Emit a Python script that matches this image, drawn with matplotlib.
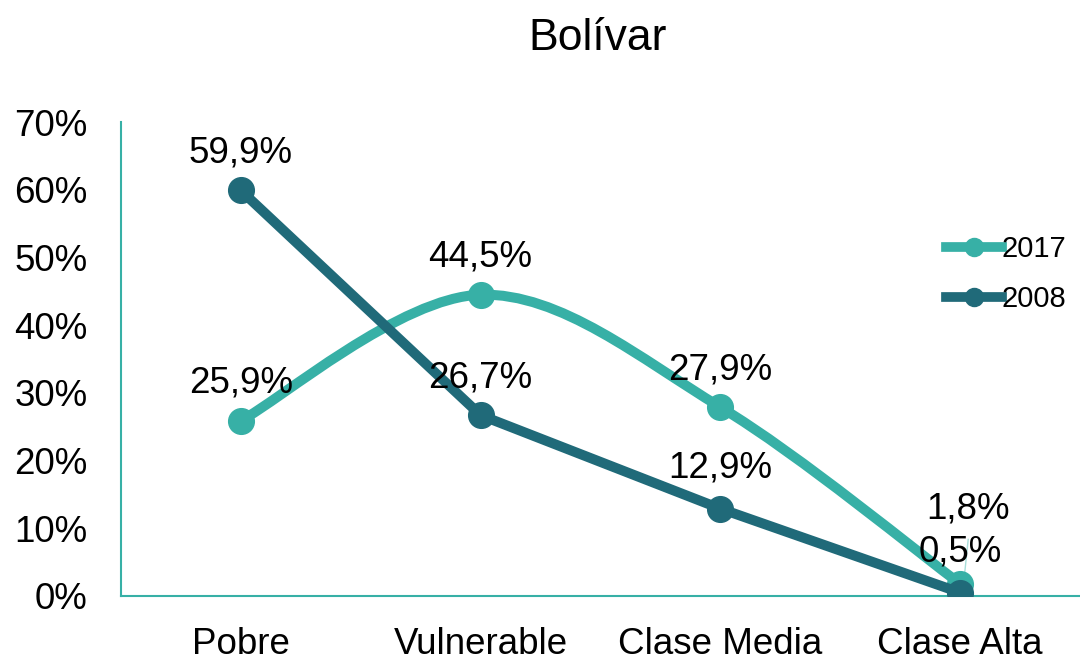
import matplotlib.pyplot as plt
from matplotlib.path import Path
from matplotlib.patches import PathPatch
from matplotlib.lines import Line2D

plt.rcParams['font.family'] = ['Liberation Sans', 'DejaVu Sans']

categorias = ['Pobre', 'Vulnerable', 'Clase Media', 'Clase Alta']
valores_2017 = [0.259, 0.445, 0.279, 0.018]
valores_2008 = [0.599, 0.267, 0.129, 0.005]

color_2017 = '#37B0A6'
color_2008 = '#206A79'


def curva_suave(xs, ys):
    # bezier estilo Excel (catmull-rom)
    pts = list(zip(xs, ys))
    n = len(pts)
    verts = [pts[0]]
    codes = [Path.MOVETO]
    for i in range(n - 1):
        p0 = pts[max(i - 1, 0)]
        p1 = pts[i]
        p2 = pts[i + 1]
        p3 = pts[min(i + 2, n - 1)]
        c1 = (p1[0] + (p2[0] - p0[0]) / 6, p1[1] + (p2[1] - p0[1]) / 6)
        c2 = (p2[0] - (p3[0] - p1[0]) / 6, p2[1] - (p3[1] - p1[1]) / 6)
        verts += [c1, c2, p2]
        codes += [Path.CURVE4] * 3
    return Path(verts, codes)


fig = plt.figure(figsize=(10.8, 6.6), dpi=100)
ax = fig.add_axes([0.112, 0.097, 0.888, 0.718])

x = list(range(len(categorias)))

ax.add_patch(PathPatch(curva_suave(x, valores_2017), fill=False, edgecolor=color_2017,
                       lw=7.2, capstyle='round', joinstyle='round', zorder=3))
ax.plot(x, valores_2017, 'o', color=color_2017, markersize=18.5, zorder=4)
ax.plot(x, valores_2008, '-o', color=color_2008, lw=7.2, markersize=18.5,
        solid_capstyle='round', zorder=5)

def fmt(v):
    return f'{v * 100:.1f}%'.replace('.', ',')

off_2017 = [(0, 27), (0, 27), (0, 27), (6, 54)]
off_2008 = [(0, 27), (0, 27), (0, 29), (0, 29)]
for i in range(len(categorias)):
    ax.annotate(fmt(valores_2017[i]), (x[i], valores_2017[i]), xytext=off_2017[i],
                textcoords='offset points', ha='center', va='center', fontsize=26.5, zorder=6)
    ax.annotate(fmt(valores_2008[i]), (x[i], valores_2008[i]), xytext=off_2008[i],
                textcoords='offset points', ha='center', va='center', fontsize=26.5, zorder=6)

# linea guia del 1,8%
ax.annotate('', xy=(x[3] + 0.015, valores_2017[3] + 0.002), xytext=(x[3] + 0.035, 0.088),
            arrowprops=dict(arrowstyle='-', color='#A8DEDA', lw=1), zorder=2)

ax.set_xlim(-0.5, 3.5)
ax.set_ylim(0, 0.7)
ax.set_xticks(x)
ax.set_xticklabels(categorias)
ax.set_yticks([i / 10 for i in range(8)])
ax.set_yticklabels([f'{i * 10}%' for i in range(8)])
ax.tick_params(length=0, labelsize=26.5)
ax.tick_params(axis='x', pad=22)
ax.tick_params(axis='y', pad=24)

for s in ['top', 'right']:
    ax.spines[s].set_visible(False)
for s in ['left', 'bottom']:
    ax.spines[s].set_color(color_2017)
    ax.spines[s].set_linewidth(1.5)

fig.text(0.553, 0.942, 'Bolívar', ha='center', va='center', fontsize=32)

handles = [Line2D([], [], color=color_2017, lw=7, marker='o', markersize=13),
           Line2D([], [], color=color_2008, lw=7, marker='o', markersize=13)]
ax.legend(handles, ['2017', '2008'], loc='center left', bbox_to_anchor=(0.852, 0.585),
          bbox_transform=fig.transFigure, frameon=False, handlelength=1.9,
          handletextpad=0.0, labelspacing=0.75,
          prop={'size': 21})

fig.savefig('out.png', dpi=100)
